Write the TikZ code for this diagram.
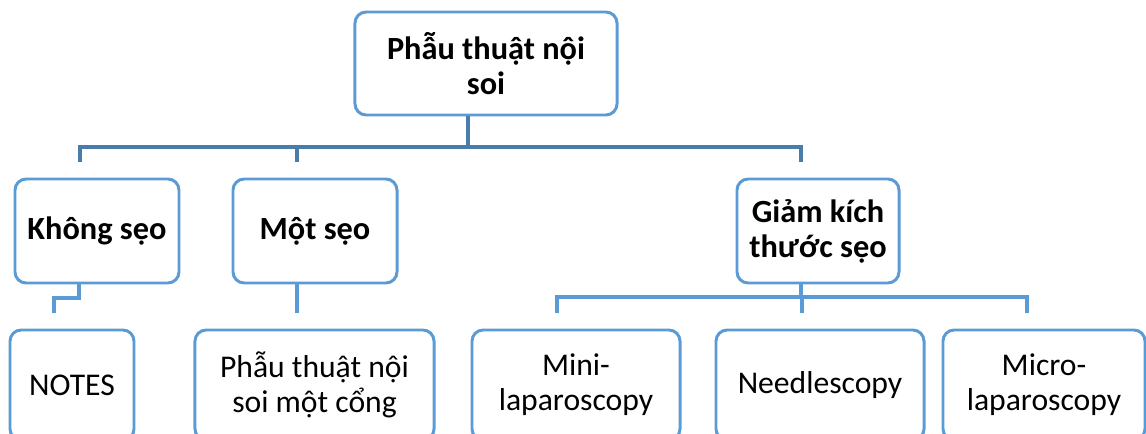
\documentclass[tikz,border=0pt]{standalone}
\usepackage{fontspec}
\setmainfont{Carlito}
\usepackage{tikz}

\definecolor{boxblue}{RGB}{91,155,213}
\definecolor{busblue}{RGB}{72,124,172}
\tikzset{
  box/.style={draw=boxblue, line width=2.1pt, rounded corners=0.28cm, fill=white,
    align=center, inner sep=0pt, font=\fontsize{22.5}{25}\selectfont},
  headbox/.style={box, font=\fontsize{23}{25}\selectfont\bfseries},
  bus/.style={draw=busblue, line width=2.3pt},
  link/.style={draw=boxblue, line width=2.3pt}
}

\begin{document}
\begin{tikzpicture}[x=0.025cm, y=-0.025cm]
        \useasboundingbox (0,0) rectangle (1146,434);
        \clip (0,0) rectangle (1146,434);
        \node[headbox, minimum width=6.55cm, minimum height=2.575cm] (root) at (486,63.5) {Phẫu thuật nội\\soi};
        \node[headbox, minimum width=4.1cm, minimum height=2.6cm] (noscar) at (97,231) {Không sẹo};
        \node[headbox, minimum width=4.1cm, minimum height=2.6cm] (onescar) at (315,231) {Một sẹo};
        \node[headbox, minimum width=4.05cm, minimum height=2.6cm] (smallscar) at (818,231) {Giảm kích\\thước sẹo};
        \node[box, minimum width=3.1cm, minimum height=2.75cm] (notes) at (72,385) {NOTES};
        \node[box, minimum width=5.975cm, minimum height=2.75cm] (singleport) at (314.5,385) {Phẫu thuật nội\\soi một cổng};
        \node[box, minimum width=5.2cm, minimum height=2.75cm] (mini) at (576,385) {Mini-\\laparoscopy};
        \node[box, minimum width=5.2cm, minimum height=2.75cm] (needle) at (820,385) {Needlescopy};
        \node[box, minimum width=5.05cm, minimum height=2.75cm] (micro) at (1044,385) {Micro-\\laparoscopy};
        \coordinate (hub0) at (468,147);
        \coordinate (drop1) at (80,162);
        \coordinate (drop2) at (297,162);
        \coordinate (drop3) at (801,162);
        \draw[bus] (root.south -| hub0) -- (hub0);
        \draw[bus] (drop1) -- (drop1 |- hub0) -- (drop3 |- hub0) -- (drop3);
        \draw[bus] (drop2) -- (drop2 |- hub0);
        \coordinate (hub1) at (79,298);
        \coordinate (drop4) at (54,313);
        \draw[link] (noscar.south -| hub1) -- (hub1) -| (drop4);
        \coordinate (drop5) at (297,313);
        \draw[link] (onescar.south -| drop5) -- (drop5);
        \coordinate (hub2) at (801,297);
        \coordinate (drop6) at (557,313);
        \coordinate (drop7) at (802,313);
        \coordinate (drop8) at (1027,313);
        \draw[link] (smallscar.south -| hub2) -- (hub2);
        \draw[link] (drop6) -- (drop6 |- hub2) -- (drop8 |- hub2) -- (drop8);
        \draw[link] (drop7) -- (drop7 |- hub2);
\end{tikzpicture}
\end{document}
